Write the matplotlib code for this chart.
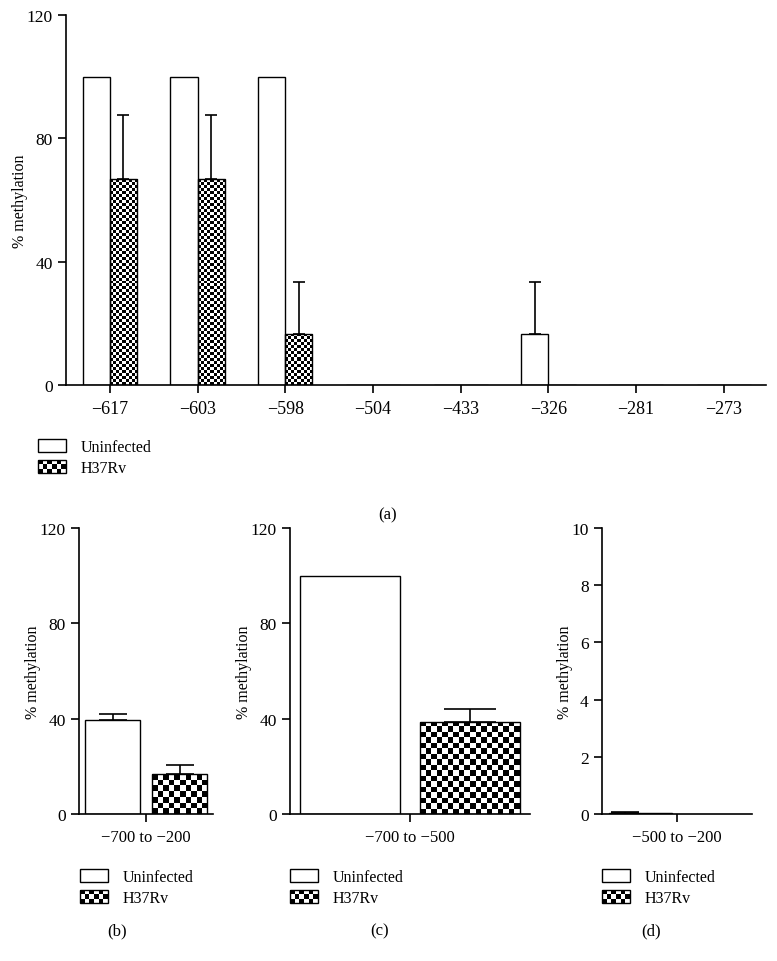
import numpy as np
import matplotlib
matplotlib.use('Agg')
import matplotlib.pyplot as plt
from matplotlib.patches import Rectangle
from matplotlib.legend_handler import HandlerBase

plt.rcParams['font.family'] = ['Liberation Serif', 'DejaVu Serif']
plt.rcParams['font.size'] = 11.5

# Panel (a): individual CpG sites
sites = ['−617', '−603', '−598', '−504', '−433', '−326', '−281', '−273']
uninf_a = [100, 100, 100, 0, 0, 16.7, 0, 0]
uninf_a_err = [0, 0, 0, 0, 0, 16.7, 0, 0]
h37_a = [66.7, 66.7, 16.7, 0, 0, 0, 0, 0]
h37_a_err = [21, 21, 16.7, 0, 0, 0, 0, 0]

# Panels (b)-(d): regions
regions = ['−700 to −200', '−700 to −500', '−500 to −200']
uninf_r = [39.6, 100, 0.03]
uninf_r_err = [2.2, 0, 0.03]
h37_r = [16.6, 38.7, 0.02]
h37_r_err = [4.0, 5.3, 0]
ylims = [120, 120, 10]
yticks = [[0, 40, 80, 120], [0, 40, 80, 120], [0, 2, 4, 6, 8, 10]]

W, H = 777, 962
fig = plt.figure(figsize=(W / 100, H / 100), dpi=100)


def rect(x0, y0, x1, y1):
    return [x0 / W, 1 - y1 / H, (x1 - x0) / W, (y1 - y0) / H]


def style(ax, xsize):
    for s in ['top', 'right']:
        ax.spines[s].set_visible(False)
    for s in ['left', 'bottom']:
        ax.spines[s].set_linewidth(1.2)
    ax.tick_params(direction='out', length=6, width=1.2, labelsize=12.5)
    ax.tick_params(axis='x', labelsize=xsize, pad=5)
    ax.set_ylabel('% methylation', fontsize=11.5, labelpad=-1)


def checker(ax, bar, cell_px):
    x0, y0 = bar.get_x(), bar.get_y()
    w, h = bar.get_width(), bar.get_height()
    if h <= 0:
        return
    p0 = ax.transData.transform((x0, y0))
    p1 = ax.transData.transform((x0 + w, y0 + h))
    nx = max(1, int(round(abs(p1[0] - p0[0]) / cell_px)))
    ny = max(1, int(round(abs(p1[1] - p0[1]) / cell_px)))
    grid = np.add.outer(np.arange(ny), np.arange(nx)) % 2
    im = ax.imshow(grid, cmap='gray', extent=(x0, x0 + w, y0, y0 + h),
                   origin='lower', aspect='auto', interpolation='nearest',
                   zorder=1.5)
    im.set_clip_path(bar)


def upper_err(ax, xs, ys, errs, cap):
    for xv, yv, ev in zip(xs, ys, errs):
        if ev > 0:
            ax.errorbar([xv], [yv], yerr=[[0], [ev]], fmt='none', ecolor='black',
                        elinewidth=1.2, capsize=cap, capthick=1.2, zorder=3)


class CheckerHandler(HandlerBase):
    def create_artists(self, legend, orig_handle, xdescent, ydescent,
                       width, height, fontsize, trans):
        arts = []
        nx, ny = 6, 3
        cw, ch = width / nx, height / ny
        for i in range(nx):
            for j in range(ny):
                if (i + j) % 2 == 0:
                    arts.append(Rectangle((-xdescent + i * cw, -ydescent + j * ch), cw, ch,
                                          facecolor='black', lw=0, transform=trans))
        arts.append(Rectangle((-xdescent, -ydescent), width, height, fill=False,
                              edgecolor='black', lw=1.0, transform=trans))
        return arts


def add_legend(x, y):
    h1 = Rectangle((0, 0), 1, 1, facecolor='white', edgecolor='black', lw=1.0)
    h2 = Rectangle((0, 0), 1, 1)
    fig.legend([h1, h2], ['Uninfected', 'H37Rv'], loc='upper left',
               bbox_to_anchor=(x / W, 1 - y / H), frameon=False, borderpad=0,
               borderaxespad=0, handlelength=1.75, handleheight=0.9,
               handletextpad=0.9, labelspacing=0.3, fontsize=11.5,
               handler_map={h2: CheckerHandler()})


# ---- panel (a)
ax = fig.add_axes(rect(66, 16, 766, 386))
style(ax, 13)
x = np.arange(len(sites))
bw = 0.31
ax.set_xlim(-0.5, len(sites) - 0.52)
ax.set_ylim(0, 120)
ax.bar(x - bw / 2, uninf_a, bw, facecolor='white', edgecolor='black', lw=1.0, zorder=2)
b2 = ax.bar(x + bw / 2, h37_a, bw, facecolor='none', edgecolor='black', lw=1.0, zorder=2)
for b in b2:
    checker(ax, b, 3.0)
upper_err(ax, x - bw / 2, uninf_a, uninf_a_err, 4.5)
upper_err(ax, x + bw / 2, h37_a, h37_a_err, 4.5)
ax.set_xticks(x)
ax.set_xticklabels(sites)
ax.set_yticks([0, 40, 80, 120])
ax.set_xlim(-0.5, len(sites) - 0.52)
ax.set_ylim(0, 120)
add_legend(38, 440)
fig.text(388 / W, 1 - 515 / H, '(a)', ha='center', va='center', fontsize=12)

# ---- panels (b), (c), (d)
boxes = [(79, 213), (290, 530), (602, 752)]
legx = [80, 290, 602]
labx = [117, 380, 651]
panel_names = ['(b)', '(c)', '(d)']
caps = [10, 19, 10]
for i in range(3):
    ax = fig.add_axes(rect(boxes[i][0], 529, boxes[i][1], 815))
    style(ax, 12)
    ax.set_xlim(-1, 1)
    ax.set_ylim(0, ylims[i])
    if i < 2:
        pos = [-0.5, 0.5]
        w = 0.83
        cell = 5.5
    else:
        pos = [-0.7, -0.28]
        w = 0.42
        cell = 3.0
    ax.bar(pos[0], uninf_r[i], w, facecolor='white', edgecolor='black', lw=1.0, zorder=2)
    b2 = ax.bar(pos[1], h37_r[i], w, facecolor='none', edgecolor='black', lw=1.0, zorder=2)
    checker(ax, b2[0], cell)
    upper_err(ax, [pos[0]], [uninf_r[i]], [uninf_r_err[i]], caps[i])
    upper_err(ax, [pos[1]], [h37_r[i]], [h37_r_err[i]], caps[i])
    ax.set_xticks([0])
    ax.set_xticklabels([regions[i]])
    ax.set_yticks(yticks[i])
    ax.set_xlim(-1, 1)
    ax.set_ylim(0, ylims[i])
    add_legend(legx[i], 870)
    fig.text(labx[i] / W, 1 - 931 / H, panel_names[i], ha='center', va='center', fontsize=12)

fig.savefig('out.png', dpi=100)
